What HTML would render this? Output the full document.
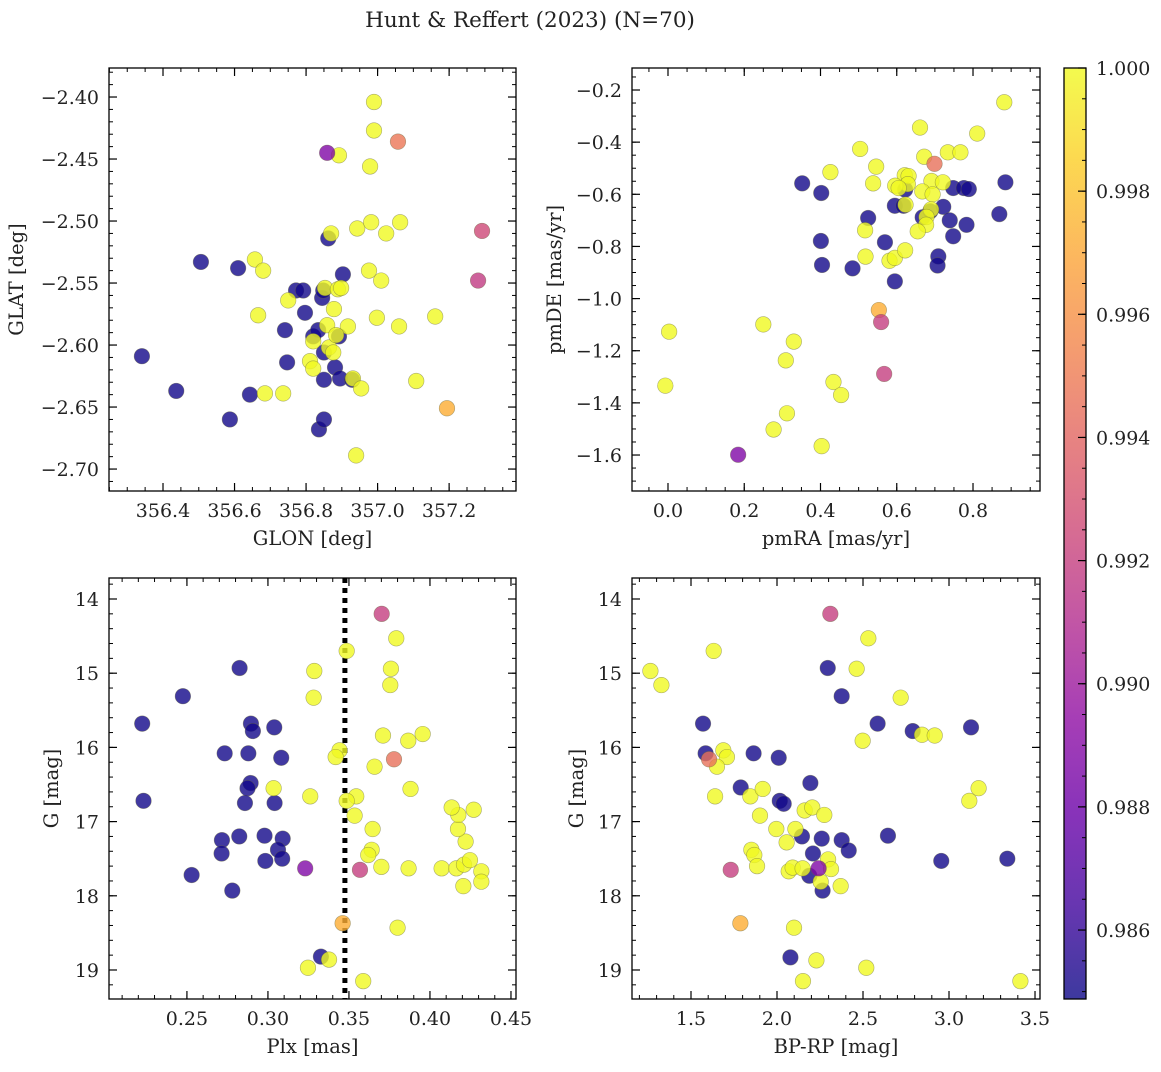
<!DOCTYPE html>
<html><head><meta charset="utf-8"><style>
html,body{margin:0;padding:0;background:#fff;}
svg text{font-family:"DejaVu Serif","Liberation Serif",serif;fill:#222;}
</style></head><body>
<svg id="fig" width="1161" height="1067" viewBox="0 0 1161 1067" xmlns="http://www.w3.org/2000/svg">
<text x="530" y="27" font-size="21.5" text-anchor="middle">Hunt &amp; Reffert (2023) (N=70)</text>
</svg>
<script>
// ---- Panel 1: GLON vs GLAT ----
const p1Glon=[356.341,356.437,356.506,356.610,356.587,356.643,356.772,356.792,356.741,356.747,356.797,356.820,356.834,356.845,356.848,356.850,356.850,356.836,356.850,356.862,356.881,356.895,356.903,356.892,356.929,
356.990,356.990,356.979,356.892,356.943,356.982,357.024,357.063,356.870,356.657,356.680,356.666,356.750,356.685,356.736,356.853,356.878,356.889,356.898,356.859,356.917,356.940,356.931,356.954,356.976,357.010,356.998,357.060,357.161,357.108,356.820,356.811,356.820,356.864,356.876,356.884,
356.859,357.057,357.292,357.281,357.194];
const p1Glat=[-2.609,-2.637,-2.533,-2.538,-2.660,-2.640,-2.556,-2.556,-2.588,-2.614,-2.574,-2.593,-2.588,-2.562,-2.556,-2.606,-2.628,-2.668,-2.660,-2.514,-2.618,-2.627,-2.543,-2.593,-2.628,
-2.404,-2.427,-2.456,-2.447,-2.506,-2.501,-2.510,-2.501,-2.510,-2.531,-2.540,-2.576,-2.564,-2.639,-2.639,-2.554,-2.571,-2.555,-2.554,-2.584,-2.585,-2.689,-2.627,-2.635,-2.540,-2.548,-2.578,-2.585,-2.577,-2.629,-2.597,-2.613,-2.619,-2.602,-2.606,-2.592,
-2.445,-2.436,-2.508,-2.548,-2.651];
const p1Prob=[].concat(Array(25).fill(0.9850),Array(36).fill(1.0),[0.9888,0.9948,0.9925,0.9918,0.9972]);

// ---- Panel 2: pmRA vs pmDE ----
const p2Pmra=[0.352,0.402,0.401,0.404,0.484,0.525,0.569,0.595,0.595,0.622,0.618,0.668,0.688,0.722,0.739,0.748,0.748,0.776,0.789,0.783,0.709,0.707,0.869,0.885,
0.882,0.661,0.811,0.504,0.672,0.734,0.767,0.546,0.426,0.538,0.621,0.631,0.629,0.596,0.605,0.691,0.721,0.667,0.694,0.623,0.690,0.678,0.677,0.655,0.517,0.518,0.581,0.595,0.622,0.250,0.003,0.330,0.309,-0.007,0.434,0.454,0.312,0.277,0.403,
0.553,0.559,0.567,0.184,0.699];
const p2Pmde=[-0.558,-0.595,-0.779,-0.871,-0.884,-0.691,-0.784,-0.934,-0.644,-0.582,-0.644,-0.688,-0.665,-0.648,-0.700,-0.576,-0.761,-0.576,-0.580,-0.717,-0.838,-0.873,-0.676,-0.554,
-0.247,-0.344,-0.367,-0.426,-0.456,-0.439,-0.439,-0.494,-0.515,-0.558,-0.527,-0.530,-0.561,-0.567,-0.576,-0.549,-0.554,-0.589,-0.600,-0.640,-0.658,-0.687,-0.717,-0.742,-0.738,-0.839,-0.855,-0.844,-0.815,-1.099,-1.127,-1.165,-1.237,-1.334,-1.320,-1.370,-1.440,-1.502,-1.566,
-1.044,-1.090,-1.289,-1.599,-0.483];
const p2Prob=[].concat(Array(24).fill(0.9850),Array(39).fill(1.0),[0.9972,0.992,0.992,0.9888,0.9945]);

// ---- Panel 3: Plx vs G ----
const p3Plx=[0.2825,0.2475,0.2224,0.2232,0.2895,0.2907,0.3039,0.2733,0.2879,0.3082,0.2893,0.2874,0.2858,0.3041,0.2716,0.2823,0.2979,0.3091,0.2714,0.3062,0.2984,0.3088,0.2529,0.2780,0.3327,
0.3486,0.3286,0.3759,0.3792,0.3755,0.3282,0.3710,0.3866,0.3955,0.3442,0.3418,0.3658,0.3880,0.3035,0.3261,0.3545,0.3486,0.3535,0.3646,0.3640,0.3619,0.3700,0.3868,0.4072,0.4163,0.4210,0.4247,0.4220,0.4173,0.4175,0.4134,0.4270,0.4317,0.4317,0.4206,0.3800,0.3377,0.3247,0.3588,
0.3702,0.3778,0.3230,0.3568,0.3461];
const p3G=[14.93,15.31,15.68,16.72,15.68,15.78,15.73,16.08,16.08,16.14,16.48,16.55,16.75,16.75,17.25,17.20,17.19,17.23,17.43,17.38,17.53,17.50,17.72,17.93,18.82,
14.70,14.97,14.94,14.53,15.16,15.33,15.84,15.91,15.82,16.04,16.13,16.26,16.56,16.55,16.66,16.66,16.72,16.92,17.10,17.38,17.45,17.61,17.63,17.63,17.63,17.58,17.52,17.27,17.10,16.91,16.81,16.84,17.67,17.81,17.87,18.43,18.86,18.97,19.15,
14.20,16.16,17.63,17.65,18.37];
const p3Prob=[].concat(Array(25).fill(0.9850),Array(39).fill(1.0),[0.992,0.9945,0.9888,0.992,0.9972]);
const plxCut=[0.3475];

// ---- Panel 4: BP-RP vs G ----
const p4Bprp=[2.295,2.376,1.570,2.585,2.789,3.128,1.585,1.864,2.010,2.194,1.789,2.016,2.039,2.645,2.145,2.260,2.376,2.417,2.209,2.955,3.339,2.188,2.265,2.078,
1.264,1.328,1.632,2.531,2.463,2.719,2.498,2.843,2.917,1.688,1.709,1.651,1.640,1.845,1.917,3.172,3.118,1.901,2.161,2.205,2.275,1.996,2.107,2.056,1.851,1.868,1.884,2.068,2.091,2.149,2.297,2.314,2.254,2.370,2.099,2.229,2.519,2.151,3.415,
2.310,1.605,2.242,1.731,1.787];
const p4G=[14.93,15.31,15.68,15.68,15.78,15.73,16.08,16.08,16.14,16.48,16.54,16.72,16.76,17.19,17.20,17.23,17.25,17.39,17.43,17.53,17.50,17.73,17.93,18.83,
14.97,15.16,14.70,14.53,14.94,15.33,15.91,15.83,15.84,16.04,16.13,16.26,16.66,16.66,16.56,16.55,16.72,16.92,16.85,16.81,16.91,17.10,17.10,17.28,17.38,17.45,17.60,17.67,17.62,17.63,17.51,17.64,17.81,17.87,18.43,18.87,18.97,19.15,19.15,
14.20,16.16,17.63,17.65,18.37];
const p4Prob=[].concat(Array(24).fill(0.9850),Array(39).fill(1.0),[0.992,0.9945,0.9888,0.992,0.9972]);

// ---- Colorbar ----
const cbTicks=[0.986,0.988,0.990,0.992,0.994,0.996,0.998,1.000];
const cbMin=0.98488, cbMax=1.0;

const NS="http://www.w3.org/2000/svg";
const svg=document.getElementById('fig');
function mk(tag,attrs,parent){const e=document.createElementNS(NS,tag);for(const k in attrs)e.setAttribute(k,attrs[k]);(parent||svg).appendChild(e);return e;}
const stops=["#0d0887","#41049d","#6a00a8","#8f0da4","#b12a90","#cc4778","#e16462","#f2844b","#fca636","#fcce25","#f0f921"];
function hex(h){return [parseInt(h.substr(1,2),16),parseInt(h.substr(3,2),16),parseInt(h.substr(5,2),16)];}
function plasma(t){t=Math.max(0,Math.min(1,t));const f=t*10,i=Math.min(9,Math.floor(f)),r=f-i;const a=hex(stops[i]),b=hex(stops[i+1]);return 'rgb('+a.map((v,k)=>Math.round(v+(b[k]-v)*r)).join(',')+')';}
function fmt(v,d){const s=Math.abs(v).toFixed(d);return (v<0&&Math.abs(v)>1e-9?'−':'')+s;}
const TF=19, LF=19.5;

function panel(o){
  const {name,L,T,R,B,x0,x1,y0,y1,xMaj,xMin,yMaj,yMin,xd,yd,xs,ys,ps,xlab,ylab,ylx}=o;
  const sx=v=>L+(v-x0)/(x1-x0)*(R-L);
  const sy=v=>T+(v-y0)/(y1-y0)*(B-T);
  const g=mk('g',{});
  
  
  const eps=1e-9;
  function ticks(a,b,step){const r=[];const s=Math.ceil(Math.min(a,b)/step-eps);for(let k=s;k*step<=Math.max(a,b)+eps;k++)r.push(+(k*step).toFixed(6));return r;}
  ticks(x0,x1,xMin).forEach(v=>{const x=sx(v);mk('line',{x1:x,x2:x,y1:B,y2:B-4,stroke:'#000','stroke-width':1},g);mk('line',{x1:x,x2:x,y1:T,y2:T+4,stroke:'#000','stroke-width':1},g);});
  ticks(y0,y1,yMin).forEach(v=>{const y=sy(v);mk('line',{x1:L,x2:L+4,y1:y,y2:y,stroke:'#000','stroke-width':1},g);mk('line',{x1:R,x2:R-4,y1:y,y2:y,stroke:'#000','stroke-width':1},g);});
  ticks(x0,x1,xMaj).forEach(v=>{const x=sx(v);mk('line',{x1:x,x2:x,y1:B,y2:B-8,stroke:'#000','stroke-width':1.2},g);mk('line',{x1:x,x2:x,y1:T,y2:T+8,stroke:'#000','stroke-width':1.2},g);
    const t=mk('text',{x:x,y:B+26,'font-size':TF,'text-anchor':'middle'},g);t.textContent=fmt(v,xd);
    
    });
  ticks(y0,y1,yMaj).forEach(v=>{const y=sy(v);mk('line',{x1:L,x2:L+8,y1:y,y2:y,stroke:'#000','stroke-width':1.2},g);mk('line',{x1:R,x2:R-8,y1:y,y2:y,stroke:'#000','stroke-width':1.2},g);
    const t=mk('text',{x:L-10,y:y+7,'font-size':TF,'text-anchor':'end'},g);t.textContent=fmt(v,yd);
    
    });
  const clipId='c'+name;
  const cp=mk('clipPath',{id:clipId},g);mk('rect',{x:L,y:T,width:R-L,height:B-T},cp);
  const pts=mk('g',{'clip-path':'url(#'+clipId+')'},g);
  if(o.vline!==undefined){const x=sx(o.vline);const ln=mk('line',{x1:x,x2:x,y1:T,y2:B,stroke:'#000','stroke-width':5,'stroke-dasharray':'5 5'},pts);
    
    }
  for(let i=0;i<xs.length;i++){
    const c=mk('circle',{cx:sx(xs[i]),cy:sy(ys[i]),r:7.8,fill:plasma((ps[i]-cbMin)/(cbMax-cbMin)),'fill-opacity':0.8,stroke:'#6a6a40','stroke-opacity':0.55,'stroke-width':0.6},pts);
    
    
  }
  mk('rect',{x:L,y:T,width:R-L,height:B-T,fill:'none',stroke:'#000','stroke-width':1.3},g);
  const xl=mk('text',{x:(L+R)/2,y:B+54,'font-size':LF,'text-anchor':'middle'},g);xl.textContent=xlab;
  
  
  const yl=mk('text',{x:ylx,y:(T+B)/2,'font-size':LF,'text-anchor':'middle',transform:'rotate(-90 '+ylx+' '+((T+B)/2)+')'},g);yl.textContent=ylab;
  
  
}
panel({name:'panel-glon-glat',L:109,T:68,R:516,B:491,x0:356.249,x1:357.387,y0:-2.3766,y1:-2.7177,xMaj:0.2,xMin:0.05,yMaj:0.05,yMin:0.01,xd:1,yd:2,xs:p1Glon,ys:p1Glat,ps:p1Prob,xlab:'GLON [deg]',ylab:'GLAT [deg]',ylx:23});
panel({name:'panel-pm',L:632,T:68,R:1040,B:491,x0:-0.0944,x1:0.9757,y0:-0.1156,y1:-1.738,xMaj:0.2,xMin:0.05,yMaj:0.2,yMin:0.05,xd:1,yd:1,xs:p2Pmra,ys:p2Pmde,ps:p2Prob,xlab:'pmRA [mas/yr]',ylab:'pmDE [mas/yr]',ylx:561});
panel({name:'panel-plx-g',L:109,T:578,R:516,B:999,x0:0.2019,x1:0.4531,y0:13.717,y1:19.391,xMaj:0.05,xMin:0.01,yMaj:1,yMin:0.2,xd:2,yd:0,xs:p3Plx,ys:p3G,ps:p3Prob,xlab:'Plx [mas]',ylab:'G [mag]',ylx:58,vline:plxCut[0]});
panel({name:'panel-cmd',L:632,T:578,R:1040,B:999,x0:1.157,x1:3.529,y0:13.717,y1:19.391,xMaj:0.5,xMin:0.1,yMaj:1,yMin:0.2,xd:1,yd:0,xs:p4Bprp,ys:p4G,ps:p4Prob,xlab:'BP-RP [mag]',ylab:'G [mag]',ylx:583});

// colorbar
(function(){
  const L=1064,R=1086,T=68,B=999;
  const g=mk('g',{});
  
  
  const def=mk('defs',{},g);const lg=mk('linearGradient',{id:'cbg',x1:0,y1:1,x2:0,y2:0},def);
  for(let i=0;i<=20;i++){mk('stop',{offset:i/20,'stop-color':plasma(i/20),'stop-opacity':0.8},lg);}
  mk('rect',{x:L,y:T,width:R-L,height:B-T,fill:'url(#cbg)'},g);
  mk('rect',{x:L,y:T,width:R-L,height:B-T,fill:'none',stroke:'#000','stroke-width':1.3},g);
  const sy=v=>B-(v-cbMin)/(cbMax-cbMin)*(B-T);
  for(let v=0.9850;v<=1.00001;v+=0.0005){const y=sy(v);mk('line',{x1:R,x2:R-4,y1:y,y2:y,stroke:'#000'},g);}
  cbTicks.forEach(v=>{const y=sy(v);mk('line',{x1:R,x2:R-8,y1:y,y2:y,stroke:'#000','stroke-width':1.2},g);
    const t=mk('text',{x:R+10,y:y+7,'font-size':TF},g);t.textContent=v.toFixed(3);
    
    });
})();
</script>
</body></html>
